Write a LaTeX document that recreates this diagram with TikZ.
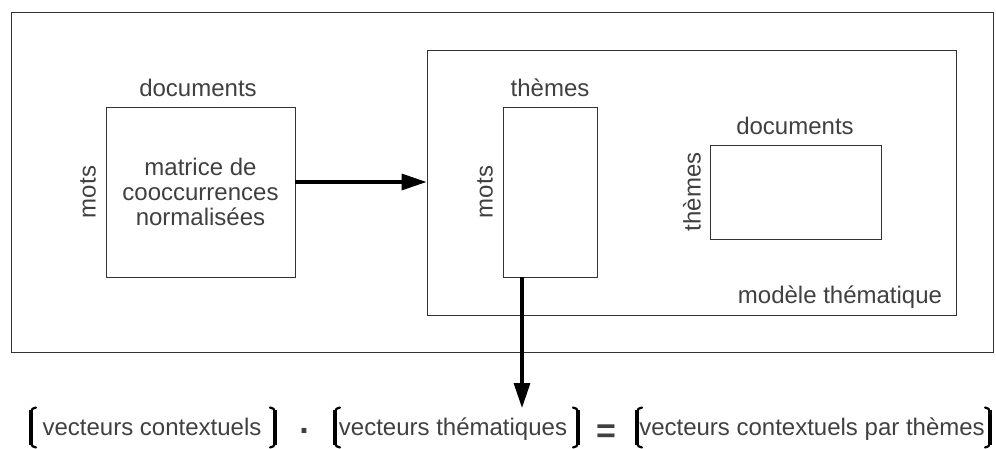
\documentclass[tikz,border=0pt]{standalone}
\usepackage{fontspec}
\setmainfont{Liberation Sans}
\usetikzlibrary{arrows.meta}
\definecolor{txt}{HTML}{404040}
\definecolor{edge}{HTML}{333333}
\begin{document}
\begin{tikzpicture}[x=1pt,y=-1pt,
  every node/.style={font=\fontsize{24}{25}\selectfont, text=txt, inner sep=0pt},
  box/.style={draw=edge, line width=0.9pt, fill=white},
  arr/.style={line width=3.3pt, -{Triangle[length=25pt,width=16pt]}},
  bar/.style={line width=3.8pt},
  hook/.style={line width=2.2pt, line cap=round},
  sym/.style={font=\fontsize{34}{34}\selectfont\bfseries}]
\useasboundingbox (0,0) rectangle (996,449);
% frames
\node[box, minimum width=982pt, minimum height=340pt] (outer) at (502,182) {};
\node[box, minimum width=529pt, minimum height=265pt] (inner) at (691.5,182.5) {};
% left matrix
\node[box, minimum width=189pt, minimum height=170pt, align=center] (mat) at (200.5,192)
  {matrice de\\cooccurrences\\normalisées};
\node (matdoc) at (198,88) {documents};
\node[rotate=90] (matmots) at (88,192) {mots};
% tall matrix
\node[box, minimum width=94pt, minimum height=170pt] (tall) at (550,192) {};
\node (talltop) at (550,88) {thèmes};
\node[rotate=90] (tallmots) at (485,192) {mots};
% right matrix
\node[box, minimum width=171pt, minimum height=94pt] (wide) at (795.5,192) {};
\node (widedoc) at (795,126) {documents};
\node[rotate=90] (widethm) at (692,192) {thèmes};
\node (model) at (840,297) {modèle thématique};
% arrows
\draw[arr] ([yshift=10pt]mat.east) -- ([yshift=10pt]mat.east -| inner.west);
\coordinate (dend) at (522,408);
\draw[arr] ([xshift=-28pt]tall.south) -- (dend);
% equation
\node[anchor=base] (e1) at (152,435) {vecteurs contextuels};
\node[anchor=base] (e2) at (453,435) {vecteurs thématiques};
\node[anchor=base] (e3) at (812,435) {vecteurs contextuels par thèmes};
\node[sym, anchor=base] (dot) at (304,433) {.};
\node[sym] (eq) at (606,434) {=};
% brackets
\foreach \x/\d in {31/1, 335/1, 637/1, 275/-1, 578/-1, 990/-1}{
  \draw[bar] (\x,410) -- (\x,445);
  \draw[hook] (\x+5*\d,407.5) to[out=180+90-90*\d, in=90] (\x,412);
  \draw[hook] (\x,443) to[out=-90,in=180+90-90*\d] (\x+5*\d,447.5);
}
\end{tikzpicture}
\end{document}
